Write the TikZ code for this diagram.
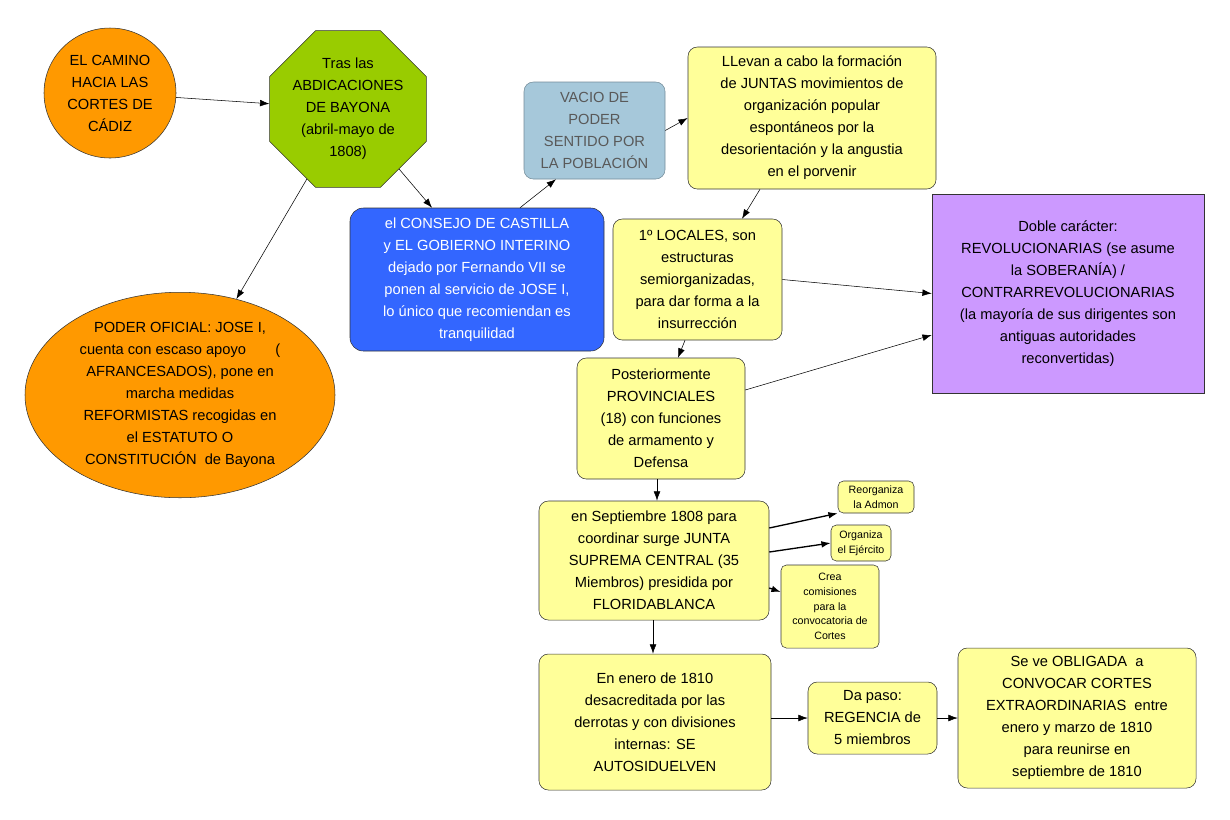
\documentclass[tikz,border=0pt]{standalone}
\usepackage{fontspec}
\setmainfont{Liberation Sans}
\usetikzlibrary{shapes.geometric,arrows.meta}
\definecolor{yel}{HTML}{FFFF99}
\definecolor{org}{HTML}{FF9900}
\definecolor{grn}{HTML}{99CC00}
\definecolor{blu}{HTML}{3366FF}
\definecolor{gry}{HTML}{A6C8DA}
\definecolor{pur}{HTML}{CC99FF}
\begin{document}
\begin{tikzpicture}[x=0.75pt,y=-0.75pt,
  base/.style={draw=black!80,align=center,inner sep=2pt,font=\fontsize{11}{16.5}\selectfont},
  wh/.style 2 args={minimum width={0.75*#1 pt},minimum height={0.75*#2 pt}},
  ybox/.style={base,fill=yel,rounded corners=7pt},
  sbox/.style={base,fill=yel,rounded corners=4pt,font=\fontsize{8}{11}\selectfont,inner sep=1pt},
  arr/.style={-{Latex[length=7pt,width=5pt]},black},
  tarr/.style={arr,line width=1pt}]
\useasboundingbox (0,0) rectangle (1230,819);
\node[base,ellipse,fill=org,wh={132}{130},inner sep=0pt] (o1) at (110,93) {EL CAMINO\\HACIA LAS\\CORTES DE\\CÁDIZ};
\node[base,regular polygon,regular polygon sides=8,fill=grn,minimum size={0.75*156pt},inner sep=0pt] (oct) at (348,109) {Tras las\\ABDICACIONES\\DE BAYONA\\(abril-mayo de\\1808)};
\node[base,ellipse,fill=org,wh={310}{170},inner sep=0pt] (o2) at (180,395) {PODER OFICIAL: JOSE I,\\cuenta con escaso apoyo\qquad(\\AFRANCESADOS), pone en\\marcha medidas\\REFORMISTAS recogidas en\\el ESTATUTO O\\CONSTITUCIÓN\ \ de Bayona};
\node[base,fill=blu,text=white,rounded corners=10pt,wh={254}{143}] (blue) at (477,279.5) {el CONSEJO DE CASTILLA\\y EL GOBIERNO INTERINO\\dejado por Fernando VII se\\ponen al servicio de JOSE I,\\lo único que recomiendan es\\tranquilidad};
\node[base,fill=gry,draw=gry!70!black,text=black!65,rounded corners=7pt,wh={141}{97}] (grey) at (594.5,130.5) {VACIO DE\\PODER\\SENTIDO POR\\LA POBLACIÓN};
\node[ybox,wh={248}{142}] (jun) at (812,118) {LLevan a cabo la formación\\de JUNTAS movimientos de\\organización popular\\espontáneos por la\\desorientación y la angustia\\en el porvenir};
\node[ybox,wh={169}{121}] (loc) at (697.5,279.5) {1º LOCALES, son\\estructuras\\semiorganizadas,\\para dar forma a la\\insurrección};
\node[base,fill=pur,wh={272}{199}] (pur) at (1068,293.5) {Doble carácter:\\REVOLUCIONARIAS (se asume\\la SOBERANÍA) /\\CONTRARREVOLUCIONARIAS\\(la mayoría de sus dirigentes son\\antiguas autoridades\\reconvertidas)};
\node[ybox,wh={168}{121}] (prov) at (661,418.5) {Posteriormente\\PROVINCIALES\\(18) con funciones\\de armamento y\\Defensa};
\node[ybox,wh={230}{119}] (sup) at (654,560.5) {en Septiembre 1808 para\\coordinar surge JUNTA\\SUPREMA CENTRAL (35\\Miembros) presidida por\\FLORIDABLANCA};
\node[sbox,wh={76}{32}] (reo) at (876,497) {Reorganiza\\la Admon};
\node[sbox,wh={60}{36}] (orgz) at (861,543) {Organiza\\el Ejército};
\node[sbox,wh={98}{83}] (crea) at (830,606.5) {Crea\\comisiones\\para la\\convocatoria de\\Cortes};
\node[ybox,wh={232}{136}] (ene) at (655,722) {En enero de 1810\\desacreditada por las\\derrotas y con divisiones\\internas: SE\\AUTOSIDUELVEN};
\node[ybox,wh={129}{72}] (da) at (872.5,718) {Da paso:\\REGENCIA de\\5 miembros};
\node[ybox,wh={238}{140}] (obl) at (1077,718) {Se ve OBLIGADA\ \ a\\CONVOCAR CORTES\\EXTRAORDINARIAS\ \ entre\\enero y marzo de 1810\\para reunirse en\\septiembre de 1810};
\draw[arr] (o1) -- (oct);
\draw[arr] (oct) -- (o2);
\draw[arr] (oct) -- (blue.north -| 432,0);
\draw[arr] (blue.north -| 520,0) -- (grey.south -| 556,0);
\draw[arr] (grey.east) -- (jun.west);
\draw[arr] (jun.south -| 760,0) -- (loc.north -| 742,0);
\draw[arr] (loc.east) -- (pur.west);
\draw[arr] (prov.east |- 0,390) -- (pur.west |- 0,335);
\draw[arr] (loc.south -| 685,0) -- (prov.north -| 678,0);
\draw[arr] (prov.south -| 657,0) -- (sup.north -| 657,0);
\draw[tarr] (sup.east |- 0,528) -- (reo.south west);
\draw[tarr] (sup.east |- 0,552) -- (orgz.west);
\draw[tarr] (sup.east |- 0,588) -- (crea.west |- 0,592);
\draw[arr] (sup.south -| 653,0) -- (ene.north -| 653,0);
\draw[arr] (ene.east |- da.west) -- (da.west);
\draw[arr] (da.east) -- (obl.west);
\end{tikzpicture}
\end{document}
